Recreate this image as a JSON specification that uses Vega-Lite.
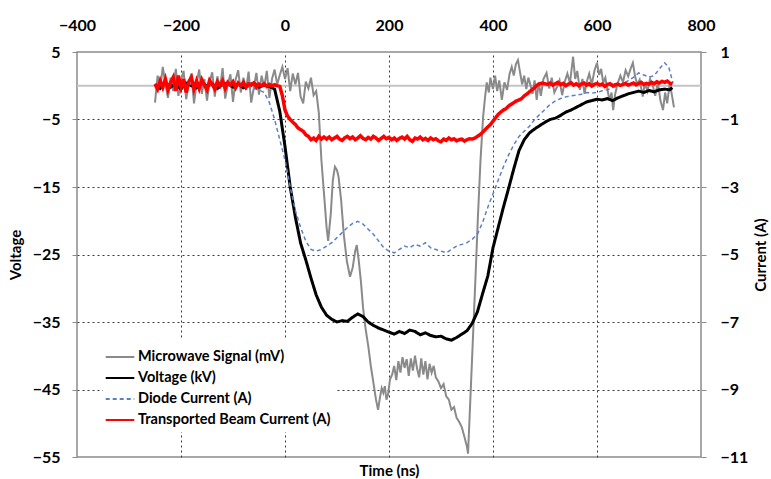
{
"$schema": "https://vega.github.io/schema/vega-lite/v6.json",
"width": 624, "height": 405,
"autosize": {"type": "none"},
"padding": {"left": 77, "top": 52, "right": 70, "bottom": 22},
"config": {
  "view": {"stroke": "#8c8c8c", "strokeWidth": 1.5},
  "font": "Lato",
  "axis": {"labelFont": "Lato", "labelFontSize": 16, "labelFontWeight": "bold", "labelColor": "#000000", "labelFlush": false, "titleFont": "Lato", "titleFontSize": 15, "titleFontWeight": "bold", "titleColor": "#000000", "domain": false, "tickColor": "#8c8c8c", "tickSize": 5, "gridColor": "#3a3a3a", "gridDash": [2, 3], "gridWidth": 1},
  "legend": {"orient": "none", "legendX": 26, "legendY": 288, "fillColor": "#ffffff", "padding": 5, "symbolType": "M-1.3,0H1.3", "symbolSize": 484, "symbolStrokeWidth": 2, "labelFont": "Lato", "labelFontSize": 14.5, "labelFontWeight": "bold", "labelColor": "#000000", "labelOffset": 6, "rowPadding": 2, "labelLimit": 300}
},
"data": {"values": [
{"s":"M","t":-250,"v":-2.5},{"s":"M","t":-245,"v":1.5},{"s":"M","t":-240,"v":-0.5},{"s":"M","t":-235,"v":2.8},{"s":"M","t":-230,"v":0.2},{"s":"M","t":-225,"v":-1.8},{"s":"M","t":-220,"v":1.2},{"s":"M","t":-215,"v":-0.8},{"s":"M","t":-210,"v":2.5},{"s":"M","t":-205,"v":-1.5},{"s":"M","t":-200,"v":0.8},{"s":"M","t":-195,"v":2.2},{"s":"M","t":-190,"v":-2.0},{"s":"M","t":-185,"v":0.5},{"s":"M","t":-180,"v":1.8},{"s":"M","t":-175,"v":-2.6},{"s":"M","t":-170,"v":0.3},{"s":"M","t":-165,"v":2.4},{"s":"M","t":-160,"v":-1.2},{"s":"M","t":-155,"v":1.0},{"s":"M","t":-150,"v":-2.2},{"s":"M","t":-145,"v":0.6},{"s":"M","t":-140,"v":2.0},{"s":"M","t":-135,"v":-1.6},{"s":"M","t":-130,"v":1.4},{"s":"M","t":-125,"v":-0.4},{"s":"M","t":-120,"v":2.6},{"s":"M","t":-115,"v":-1.9},{"s":"M","t":-110,"v":0.2},{"s":"M","t":-105,"v":1.7},{"s":"M","t":-100,"v":-2.4},{"s":"M","t":-95,"v":0.9},{"s":"M","t":-90,"v":2.3},{"s":"M","t":-85,"v":-1.0},{"s":"M","t":-80,"v":1.2},{"s":"M","t":-75,"v":-0.6},{"s":"M","t":-70,"v":2.1},{"s":"M","t":-65,"v":-2.5},{"s":"M","t":-60,"v":-0.3},{"s":"M","t":-55,"v":1.9},{"s":"M","t":-50,"v":-1.3},{"s":"M","t":-45,"v":1.5},{"s":"M","t":-40,"v":-0.2},{"s":"M","t":-35,"v":2.2},{"s":"M","t":-30,"v":-1.8},{"s":"M","t":-25,"v":1.0},{"s":"M","t":-20,"v":2.4},{"s":"M","t":-15,"v":0.2},{"s":"M","t":-10,"v":1.6},{"s":"M","t":-5,"v":2.8},{"s":"M","t":0,"v":1.0},{"s":"M","t":5,"v":2.6},{"s":"M","t":10,"v":-0.8},{"s":"M","t":15,"v":1.8},{"s":"M","t":20,"v":0.2},{"s":"M","t":25,"v":1.9},{"s":"M","t":30,"v":-1.6},{"s":"M","t":35,"v":-2.6},{"s":"M","t":40,"v":0.6},{"s":"M","t":45,"v":-0.4},{"s":"M","t":50,"v":1.2},{"s":"M","t":55,"v":-1.4},{"s":"M","t":60,"v":-0.8},{"s":"M","t":65,"v":-4},{"s":"M","t":70,"v":-11},{"s":"M","t":75,"v":-16},{"s":"M","t":80,"v":-21},{"s":"M","t":83,"v":-23},{"s":"M","t":88,"v":-19},{"s":"M","t":92,"v":-14},{"s":"M","t":96,"v":-12},{"s":"M","t":100,"v":-12.5},{"s":"M","t":103,"v":-13.5},{"s":"M","t":108,"v":-17},{"s":"M","t":113,"v":-22},{"s":"M","t":119,"v":-26},{"s":"M","t":125,"v":-28.3},{"s":"M","t":130,"v":-27},{"s":"M","t":135,"v":-24.5},{"s":"M","t":138,"v":-23.6},{"s":"M","t":142,"v":-26},{"s":"M","t":146,"v":-29},{"s":"M","t":150,"v":-32.8},{"s":"M","t":155,"v":-36},{"s":"M","t":160,"v":-38.5},{"s":"M","t":165,"v":-41.5},{"s":"M","t":170,"v":-44},{"s":"M","t":175,"v":-46.5},{"s":"M","t":179,"v":-48},{"s":"M","t":183,"v":-46},{"s":"M","t":186,"v":-44.8},{"s":"M","t":189,"v":-45.5},{"s":"M","t":192,"v":-44.5},{"s":"M","t":195,"v":-46.5},{"s":"M","t":198,"v":-45.8},{"s":"M","t":202,"v":-43.5},{"s":"M","t":206,"v":-42.8},{"s":"M","t":210,"v":-41.5},{"s":"M","t":214,"v":-43.6},{"s":"M","t":218,"v":-40.8},{"s":"M","t":222,"v":-42.5},{"s":"M","t":226,"v":-40.2},{"s":"M","t":230,"v":-41.8},{"s":"M","t":234,"v":-40.5},{"s":"M","t":238,"v":-43},{"s":"M","t":242,"v":-40.4},{"s":"M","t":246,"v":-42.2},{"s":"M","t":250,"v":-40.0},{"s":"M","t":254,"v":-41.9},{"s":"M","t":258,"v":-43.2},{"s":"M","t":262,"v":-40.4},{"s":"M","t":266,"v":-42.8},{"s":"M","t":270,"v":-40.8},{"s":"M","t":274,"v":-43.5},{"s":"M","t":278,"v":-41.2},{"s":"M","t":282,"v":-42.5},{"s":"M","t":286,"v":-41.5},{"s":"M","t":290,"v":-43.2},{"s":"M","t":295,"v":-43.8},{"s":"M","t":300,"v":-44.8},{"s":"M","t":305,"v":-44.2},{"s":"M","t":310,"v":-46},{"s":"M","t":315,"v":-46.5},{"s":"M","t":320,"v":-48},{"s":"M","t":325,"v":-47.6},{"s":"M","t":330,"v":-49.2},{"s":"M","t":335,"v":-49.8},{"s":"M","t":340,"v":-50.6},{"s":"M","t":345,"v":-52},{"s":"M","t":350,"v":-53.5},{"s":"M","t":352,"v":-54.5},{"s":"M","t":360,"v":-40},{"s":"M","t":366,"v":-29},{"s":"M","t":371,"v":-19.4},{"s":"M","t":376,"v":-11},{"s":"M","t":381,"v":-4.6},{"s":"M","t":385,"v":-1.5},{"s":"M","t":388,"v":0.5},{"s":"M","t":392,"v":-1.0},{"s":"M","t":395,"v":1.2},{"s":"M","t":400,"v":-0.5},{"s":"M","t":404,"v":1.5},{"s":"M","t":408,"v":-0.8},{"s":"M","t":412,"v":0.8},{"s":"M","t":417,"v":-2.1},{"s":"M","t":422,"v":0.5},{"s":"M","t":427,"v":-0.6},{"s":"M","t":432,"v":1.8},{"s":"M","t":436,"v":2.8},{"s":"M","t":440,"v":1.5},{"s":"M","t":444,"v":3.2},{"s":"M","t":448,"v":3.8},{"s":"M","t":452,"v":2.0},{"s":"M","t":456,"v":0.2},{"s":"M","t":460,"v":1.5},{"s":"M","t":464,"v":-0.5},{"s":"M","t":468,"v":1.2},{"s":"M","t":471,"v":0.4},{"s":"M","t":476,"v":-1.2},{"s":"M","t":480,"v":0.8},{"s":"M","t":484,"v":-2.1},{"s":"M","t":488,"v":0.5},{"s":"M","t":492,"v":-1.5},{"s":"M","t":497,"v":1.0},{"s":"M","t":503,"v":1.9},{"s":"M","t":508,"v":-0.4},{"s":"M","t":513,"v":1.2},{"s":"M","t":518,"v":-1.0},{"s":"M","t":523,"v":-0.2},{"s":"M","t":528,"v":0.8},{"s":"M","t":533,"v":-1.4},{"s":"M","t":538,"v":0.6},{"s":"M","t":543,"v":1.8},{"s":"M","t":548,"v":0.4},{"s":"M","t":552,"v":3.0},{"s":"M","t":554,"v":4.3},{"s":"M","t":558,"v":1.0},{"s":"M","t":562,"v":2.2},{"s":"M","t":567,"v":-0.6},{"s":"M","t":572,"v":1.0},{"s":"M","t":576,"v":-1.2},{"s":"M","t":580,"v":0.5},{"s":"M","t":585,"v":1.8},{"s":"M","t":590,"v":0.2},{"s":"M","t":595,"v":2.2},{"s":"M","t":600,"v":3.4},{"s":"M","t":604,"v":1.6},{"s":"M","t":608,"v":2.5},{"s":"M","t":612,"v":0.4},{"s":"M","t":616,"v":1.2},{"s":"M","t":620,"v":-0.5},{"s":"M","t":624,"v":-2.2},{"s":"M","t":628,"v":-1.0},{"s":"M","t":631,"v":-3.6},{"s":"M","t":635,"v":-1.2},{"s":"M","t":640,"v":0.4},{"s":"M","t":645,"v":1.5},{"s":"M","t":650,"v":0.5},{"s":"M","t":655,"v":2.3},{"s":"M","t":660,"v":1.4},{"s":"M","t":665,"v":2.6},{"s":"M","t":669,"v":3.4},{"s":"M","t":673,"v":1.5},{"s":"M","t":677,"v":0.2},{"s":"M","t":682,"v":0.9},{"s":"M","t":688,"v":-1.6},{"s":"M","t":692,"v":0.4},{"s":"M","t":697,"v":-0.8},{"s":"M","t":702,"v":1.0},{"s":"M","t":708,"v":-0.2},{"s":"M","t":712,"v":-1.5},{"s":"M","t":717,"v":0.5},{"s":"M","t":722,"v":-2.2},{"s":"M","t":727,"v":-3.6},{"s":"M","t":731,"v":-1.0},{"s":"M","t":735,"v":-2.6},{"s":"M","t":740,"v":0.4},{"s":"M","t":745,"v":-1.8},{"s":"M","t":748,"v":-3.2},
{"s":"V","t":-250,"v":0.2},{"s":"V","t":-240,"v":-0.4},{"s":"V","t":-230,"v":0.5},{"s":"V","t":-220,"v":-0.2},{"s":"V","t":-210,"v":0.3},{"s":"V","t":-200,"v":-0.5},{"s":"V","t":-190,"v":0.4},{"s":"V","t":-180,"v":0.0},{"s":"V","t":-170,"v":-0.3},{"s":"V","t":-160,"v":0.5},{"s":"V","t":-150,"v":-0.1},{"s":"V","t":-140,"v":0.3},{"s":"V","t":-130,"v":-0.4},{"s":"V","t":-120,"v":0.2},{"s":"V","t":-110,"v":0.4},{"s":"V","t":-100,"v":-0.2},{"s":"V","t":-90,"v":0.3},{"s":"V","t":-80,"v":-0.3},{"s":"V","t":-70,"v":0.1},{"s":"V","t":-60,"v":0.4},{"s":"V","t":-50,"v":-0.2},{"s":"V","t":-40,"v":0.1},{"s":"V","t":-30,"v":-0.1},{"s":"V","t":-20,"v":-0.5},{"s":"V","t":-10,"v":-3.8},{"s":"V","t":0,"v":-9},{"s":"V","t":10,"v":-15},{"s":"V","t":20,"v":-19.5},{"s":"V","t":30,"v":-23.3},{"s":"V","t":40,"v":-25.8},{"s":"V","t":50,"v":-28.5},{"s":"V","t":60,"v":-31},{"s":"V","t":70,"v":-32.8},{"s":"V","t":80,"v":-34},{"s":"V","t":90,"v":-34.6},{"s":"V","t":100,"v":-35},{"s":"V","t":110,"v":-34.8},{"s":"V","t":120,"v":-34.9},{"s":"V","t":130,"v":-34.3},{"s":"V","t":140,"v":-33.8},{"s":"V","t":150,"v":-34.2},{"s":"V","t":160,"v":-35},{"s":"V","t":170,"v":-35.5},{"s":"V","t":180,"v":-35.9},{"s":"V","t":190,"v":-36.2},{"s":"V","t":200,"v":-36.5},{"s":"V","t":210,"v":-36.8},{"s":"V","t":220,"v":-36.4},{"s":"V","t":230,"v":-36.7},{"s":"V","t":240,"v":-36.2},{"s":"V","t":250,"v":-36.4},{"s":"V","t":260,"v":-36.9},{"s":"V","t":270,"v":-36.6},{"s":"V","t":280,"v":-37},{"s":"V","t":290,"v":-37.2},{"s":"V","t":300,"v":-37.1},{"s":"V","t":310,"v":-37.5},{"s":"V","t":320,"v":-37.7},{"s":"V","t":330,"v":-37.3},{"s":"V","t":340,"v":-36.8},{"s":"V","t":350,"v":-36.3},{"s":"V","t":360,"v":-35.2},{"s":"V","t":370,"v":-33.5},{"s":"V","t":380,"v":-30.8},{"s":"V","t":390,"v":-28.2},{"s":"V","t":400,"v":-24},{"s":"V","t":410,"v":-21},{"s":"V","t":420,"v":-18},{"s":"V","t":430,"v":-15.2},{"s":"V","t":440,"v":-12.3},{"s":"V","t":450,"v":-9.6},{"s":"V","t":460,"v":-8},{"s":"V","t":470,"v":-7},{"s":"V","t":480,"v":-6.4},{"s":"V","t":490,"v":-5.9},{"s":"V","t":500,"v":-5.4},{"s":"V","t":510,"v":-5},{"s":"V","t":520,"v":-4.8},{"s":"V","t":530,"v":-4.4},{"s":"V","t":540,"v":-3.9},{"s":"V","t":550,"v":-3.6},{"s":"V","t":560,"v":-3.2},{"s":"V","t":570,"v":-2.8},{"s":"V","t":580,"v":-2.4},{"s":"V","t":590,"v":-2.2},{"s":"V","t":600,"v":-2.0},{"s":"V","t":610,"v":-2.1},{"s":"V","t":620,"v":-1.9},{"s":"V","t":630,"v":-2.2},{"s":"V","t":640,"v":-1.8},{"s":"V","t":650,"v":-1.5},{"s":"V","t":660,"v":-1.2},{"s":"V","t":670,"v":-1.0},{"s":"V","t":680,"v":-0.8},{"s":"V","t":690,"v":-1.0},{"s":"V","t":700,"v":-0.7},{"s":"V","t":710,"v":-0.9},{"s":"V","t":720,"v":-0.6},{"s":"V","t":730,"v":-0.5},{"s":"V","t":740,"v":-0.6},{"s":"V","t":745,"v":-0.3},
{"s":"D","t":-250,"v":0.05},{"s":"D","t":-240,"v":-0.03},{"s":"D","t":-230,"v":0.04},{"s":"D","t":-220,"v":-0.02},{"s":"D","t":-210,"v":0.03},{"s":"D","t":-200,"v":-0.04},{"s":"D","t":-190,"v":0.02},{"s":"D","t":-180,"v":0.05},{"s":"D","t":-170,"v":-0.03},{"s":"D","t":-160,"v":0.02},{"s":"D","t":-150,"v":-0.02},{"s":"D","t":-140,"v":0.04},{"s":"D","t":-130,"v":-0.03},{"s":"D","t":-120,"v":0.02},{"s":"D","t":-110,"v":0.0},{"s":"D","t":-100,"v":0.03},{"s":"D","t":-90,"v":-0.02},{"s":"D","t":-80,"v":0.02},{"s":"D","t":-70,"v":-0.04},{"s":"D","t":-60,"v":-0.08},{"s":"D","t":-50,"v":-0.12},{"s":"D","t":-40,"v":-0.2},{"s":"D","t":-30,"v":-0.5},{"s":"D","t":-20,"v":-1.0},{"s":"D","t":-10,"v":-1.6},{"s":"D","t":0,"v":-2.2},{"s":"D","t":10,"v":-3.0},{"s":"D","t":20,"v":-3.7},{"s":"D","t":30,"v":-4.2},{"s":"D","t":40,"v":-4.6},{"s":"D","t":50,"v":-4.85},{"s":"D","t":60,"v":-4.9},{"s":"D","t":70,"v":-4.85},{"s":"D","t":80,"v":-4.75},{"s":"D","t":90,"v":-4.65},{"s":"D","t":100,"v":-4.5},{"s":"D","t":110,"v":-4.35},{"s":"D","t":120,"v":-4.2},{"s":"D","t":130,"v":-4.08},{"s":"D","t":140,"v":-4.02},{"s":"D","t":150,"v":-4.1},{"s":"D","t":160,"v":-4.25},{"s":"D","t":170,"v":-4.4},{"s":"D","t":180,"v":-4.6},{"s":"D","t":190,"v":-4.8},{"s":"D","t":200,"v":-4.9},{"s":"D","t":210,"v":-4.95},{"s":"D","t":220,"v":-4.85},{"s":"D","t":230,"v":-4.75},{"s":"D","t":240,"v":-4.8},{"s":"D","t":250,"v":-4.7},{"s":"D","t":260,"v":-4.75},{"s":"D","t":270,"v":-4.65},{"s":"D","t":280,"v":-4.8},{"s":"D","t":290,"v":-4.85},{"s":"D","t":300,"v":-4.9},{"s":"D","t":310,"v":-4.95},{"s":"D","t":320,"v":-4.85},{"s":"D","t":330,"v":-4.75},{"s":"D","t":340,"v":-4.7},{"s":"D","t":350,"v":-4.65},{"s":"D","t":360,"v":-4.55},{"s":"D","t":370,"v":-4.4},{"s":"D","t":380,"v":-4.05},{"s":"D","t":390,"v":-3.6},{"s":"D","t":400,"v":-3.2},{"s":"D","t":410,"v":-2.8},{"s":"D","t":420,"v":-2.4},{"s":"D","t":430,"v":-2.05},{"s":"D","t":440,"v":-1.75},{"s":"D","t":450,"v":-1.5},{"s":"D","t":460,"v":-1.35},{"s":"D","t":470,"v":-1.2},{"s":"D","t":480,"v":-1.0},{"s":"D","t":490,"v":-0.85},{"s":"D","t":500,"v":-0.7},{"s":"D","t":510,"v":-0.55},{"s":"D","t":520,"v":-0.45},{"s":"D","t":530,"v":-0.38},{"s":"D","t":540,"v":-0.33},{"s":"D","t":550,"v":-0.3},{"s":"D","t":560,"v":-0.28},{"s":"D","t":570,"v":-0.25},{"s":"D","t":580,"v":-0.2},{"s":"D","t":590,"v":-0.22},{"s":"D","t":600,"v":-0.2},{"s":"D","t":610,"v":-0.15},{"s":"D","t":620,"v":-0.12},{"s":"D","t":630,"v":-0.05},{"s":"D","t":640,"v":-0.02},{"s":"D","t":650,"v":0.05},{"s":"D","t":660,"v":0.15},{"s":"D","t":670,"v":0.25},{"s":"D","t":680,"v":0.38},{"s":"D","t":690,"v":0.32},{"s":"D","t":700,"v":0.26},{"s":"D","t":710,"v":0.3},{"s":"D","t":720,"v":0.5},{"s":"D","t":730,"v":0.68},{"s":"D","t":738,"v":0.55},{"s":"D","t":746,"v":0.08},
{"s":"B","t":-250,"v":0.05},{"s":"B","t":-245,"v":-0.1},{"s":"B","t":-240,"v":0.15},{"s":"B","t":-235,"v":-0.05},{"s":"B","t":-230,"v":0.2},{"s":"B","t":-225,"v":-0.12},{"s":"B","t":-220,"v":0.1},{"s":"B","t":-215,"v":0.25},{"s":"B","t":-210,"v":-0.15},{"s":"B","t":-205,"v":0.3},{"s":"B","t":-200,"v":-0.05},{"s":"B","t":-195,"v":0.2},{"s":"B","t":-190,"v":-0.2},{"s":"B","t":-185,"v":0.12},{"s":"B","t":-180,"v":0.25},{"s":"B","t":-175,"v":-0.1},{"s":"B","t":-170,"v":0.15},{"s":"B","t":-165,"v":-0.08},{"s":"B","t":-160,"v":0.18},{"s":"B","t":-155,"v":0.02},{"s":"B","t":-150,"v":-0.12},{"s":"B","t":-145,"v":0.16},{"s":"B","t":-140,"v":0.05},{"s":"B","t":-135,"v":-0.1},{"s":"B","t":-130,"v":0.12},{"s":"B","t":-125,"v":0.0},{"s":"B","t":-120,"v":0.15},{"s":"B","t":-115,"v":-0.08},{"s":"B","t":-110,"v":0.1},{"s":"B","t":-105,"v":0.02},{"s":"B","t":-100,"v":0.12},{"s":"B","t":-95,"v":-0.06},{"s":"B","t":-90,"v":0.08},{"s":"B","t":-85,"v":0.0},{"s":"B","t":-80,"v":0.1},{"s":"B","t":-75,"v":-0.05},{"s":"B","t":-70,"v":0.06},{"s":"B","t":-65,"v":0.02},{"s":"B","t":-60,"v":0.08},{"s":"B","t":-55,"v":-0.04},{"s":"B","t":-50,"v":0.05},{"s":"B","t":-45,"v":0.0},{"s":"B","t":-40,"v":0.06},{"s":"B","t":-35,"v":-0.02},{"s":"B","t":-30,"v":0.04},{"s":"B","t":-25,"v":0.0},{"s":"B","t":-20,"v":0.03},{"s":"B","t":-15,"v":0.0},{"s":"B","t":-10,"v":-0.02},{"s":"B","t":-5,"v":-0.3},{"s":"B","t":0,"v":-0.72},{"s":"B","t":5,"v":-0.9},{"s":"B","t":10,"v":-1.0},{"s":"B","t":15,"v":-1.08},{"s":"B","t":20,"v":-1.15},{"s":"B","t":25,"v":-1.25},{"s":"B","t":30,"v":-1.3},{"s":"B","t":35,"v":-1.35},{"s":"B","t":40,"v":-1.45},{"s":"B","t":45,"v":-1.5},{"s":"B","t":50,"v":-1.6},{"s":"B","t":55,"v":-1.55},{"s":"B","t":60,"v":-1.62},{"s":"B","t":65,"v":-1.5},{"s":"B","t":70,"v":-1.58},{"s":"B","t":75,"v":-1.52},{"s":"B","t":80,"v":-1.58},{"s":"B","t":85,"v":-1.52},{"s":"B","t":90,"v":-1.6},{"s":"B","t":95,"v":-1.55},{"s":"B","t":100,"v":-1.5},{"s":"B","t":105,"v":-1.58},{"s":"B","t":110,"v":-1.62},{"s":"B","t":115,"v":-1.54},{"s":"B","t":120,"v":-1.5},{"s":"B","t":125,"v":-1.57},{"s":"B","t":130,"v":-1.52},{"s":"B","t":135,"v":-1.6},{"s":"B","t":140,"v":-1.55},{"s":"B","t":145,"v":-1.48},{"s":"B","t":150,"v":-1.56},{"s":"B","t":155,"v":-1.6},{"s":"B","t":160,"v":-1.53},{"s":"B","t":165,"v":-1.58},{"s":"B","t":170,"v":-1.5},{"s":"B","t":175,"v":-1.55},{"s":"B","t":180,"v":-1.62},{"s":"B","t":185,"v":-1.56},{"s":"B","t":190,"v":-1.5},{"s":"B","t":195,"v":-1.57},{"s":"B","t":200,"v":-1.53},{"s":"B","t":205,"v":-1.6},{"s":"B","t":210,"v":-1.55},{"s":"B","t":215,"v":-1.62},{"s":"B","t":220,"v":-1.56},{"s":"B","t":225,"v":-1.52},{"s":"B","t":230,"v":-1.58},{"s":"B","t":235,"v":-1.5},{"s":"B","t":240,"v":-1.6},{"s":"B","t":245,"v":-1.65},{"s":"B","t":250,"v":-1.55},{"s":"B","t":255,"v":-1.58},{"s":"B","t":260,"v":-1.52},{"s":"B","t":265,"v":-1.6},{"s":"B","t":270,"v":-1.56},{"s":"B","t":275,"v":-1.62},{"s":"B","t":280,"v":-1.55},{"s":"B","t":285,"v":-1.6},{"s":"B","t":290,"v":-1.57},{"s":"B","t":295,"v":-1.63},{"s":"B","t":300,"v":-1.66},{"s":"B","t":305,"v":-1.58},{"s":"B","t":310,"v":-1.62},{"s":"B","t":315,"v":-1.55},{"s":"B","t":320,"v":-1.6},{"s":"B","t":325,"v":-1.57},{"s":"B","t":330,"v":-1.63},{"s":"B","t":335,"v":-1.6},{"s":"B","t":340,"v":-1.58},{"s":"B","t":345,"v":-1.64},{"s":"B","t":350,"v":-1.6},{"s":"B","t":355,"v":-1.57},{"s":"B","t":360,"v":-1.58},{"s":"B","t":365,"v":-1.55},{"s":"B","t":370,"v":-1.5},{"s":"B","t":375,"v":-1.45},{"s":"B","t":380,"v":-1.38},{"s":"B","t":385,"v":-1.3},{"s":"B","t":390,"v":-1.22},{"s":"B","t":395,"v":-1.15},{"s":"B","t":400,"v":-1.05},{"s":"B","t":405,"v":-0.95},{"s":"B","t":410,"v":-0.85},{"s":"B","t":415,"v":-0.78},{"s":"B","t":420,"v":-0.72},{"s":"B","t":425,"v":-0.68},{"s":"B","t":430,"v":-0.6},{"s":"B","t":435,"v":-0.55},{"s":"B","t":440,"v":-0.5},{"s":"B","t":445,"v":-0.45},{"s":"B","t":450,"v":-0.42},{"s":"B","t":455,"v":-0.38},{"s":"B","t":460,"v":-0.3},{"s":"B","t":465,"v":-0.25},{"s":"B","t":470,"v":-0.18},{"s":"B","t":475,"v":-0.12},{"s":"B","t":480,"v":-0.06},{"s":"B","t":485,"v":0.02},{"s":"B","t":490,"v":0.06},{"s":"B","t":495,"v":0.08},{"s":"B","t":500,"v":0.06},{"s":"B","t":505,"v":0.04},{"s":"B","t":510,"v":0.08},{"s":"B","t":515,"v":0.02},{"s":"B","t":520,"v":0.06},{"s":"B","t":525,"v":0.1},{"s":"B","t":530,"v":0.03},{"s":"B","t":535,"v":0.07},{"s":"B","t":540,"v":0.0},{"s":"B","t":545,"v":0.05},{"s":"B","t":550,"v":0.09},{"s":"B","t":555,"v":0.02},{"s":"B","t":560,"v":0.06},{"s":"B","t":565,"v":0.0},{"s":"B","t":570,"v":0.05},{"s":"B","t":575,"v":0.08},{"s":"B","t":580,"v":0.02},{"s":"B","t":585,"v":0.06},{"s":"B","t":590,"v":-0.01},{"s":"B","t":595,"v":0.04},{"s":"B","t":600,"v":0.07},{"s":"B","t":605,"v":0.02},{"s":"B","t":610,"v":0.05},{"s":"B","t":615,"v":-0.02},{"s":"B","t":620,"v":0.04},{"s":"B","t":625,"v":0.06},{"s":"B","t":630,"v":0.0},{"s":"B","t":635,"v":0.03},{"s":"B","t":640,"v":0.05},{"s":"B","t":645,"v":0.01},{"s":"B","t":650,"v":0.04},{"s":"B","t":655,"v":0.07},{"s":"B","t":660,"v":0.02},{"s":"B","t":665,"v":0.05},{"s":"B","t":670,"v":0.08},{"s":"B","t":675,"v":0.03},{"s":"B","t":680,"v":0.06},{"s":"B","t":685,"v":0.1},{"s":"B","t":690,"v":0.04},{"s":"B","t":695,"v":0.07},{"s":"B","t":700,"v":0.05},{"s":"B","t":705,"v":0.1},{"s":"B","t":710,"v":0.06},{"s":"B","t":715,"v":0.12},{"s":"B","t":720,"v":0.08},{"s":"B","t":725,"v":0.13},{"s":"B","t":730,"v":0.1},{"s":"B","t":735,"v":0.14},{"s":"B","t":740,"v":0.08},{"s":"B","t":745,"v":0.04}
]},
"layer": [
  {
    "layer": [
      {"data": {"values": [{"z": 0}]}, "mark": {"type": "rule", "color": "#c4c4c4", "strokeWidth": 2},
       "encoding": {"y": {"field": "z", "type": "quantitative", "scale": {"domain": [-55, 5], "nice": false, "zero": false},
         "axis": {"orient": "left", "values": [5, -5, -15, -25, -35, -45, -55], "title": "Voltage", "titlePadding": 9, "labelPadding": 12, "grid": true, "gridOpacity": {"condition": {"test": "datum.value == 5 || datum.value == -55", "value": 0}, "value": 1}}}}},
      {"layer": [
        {"transform": [{"filter": "datum.s == 'M'"}], "mark": {"type": "line", "strokeWidth": 2}},
        {"transform": [{"filter": "datum.s == 'V'"}], "mark": {"type": "line", "strokeWidth": 3}}
       ],
       "encoding": {
         "x": {"field": "t", "type": "quantitative", "scale": {"domain": [-400, 800], "nice": false, "zero": false},
           "axis": {"orient": "top", "values": [-400, -200, 0, 200, 400, 600, 800], "title": null, "ticks": false, "labelPadding": 19, "grid": true, "gridOpacity": {"condition": {"test": "datum.value == -400 || datum.value == 800", "value": 0}, "value": 1}}},
         "y": {"field": "v", "type": "quantitative", "scale": {"domain": [-55, 5], "nice": false, "zero": false},
           "axis": {"orient": "left", "values": [5, -5, -15, -25, -35, -45, -55], "title": "Voltage", "titlePadding": 9, "labelPadding": 12, "grid": true, "gridOpacity": {"condition": {"test": "datum.value == 5 || datum.value == -55", "value": 0}, "value": 1}}},
         "color": {"field": "s", "type": "nominal", "scale": {"domain": ["M", "V", "D", "B"], "range": ["#8a8a8a", "#000000", "#5b80c4", "#ff0000"]},
           "legend": {"title": null, "labelExpr": "datum.label == 'M' ? 'Microwave Signal (mV)' : datum.label == 'V' ? 'Voltage (kV)' : datum.label == 'D' ? 'Diode Current (A)' : 'Transported Beam Current (A)'"}},
         "strokeDash": {"field": "s", "type": "nominal", "scale": {"domain": ["M", "V", "D", "B"], "range": [[1, 0], [1, 0], [4, 3], [1, 0]]},
           "legend": {"title": null, "labelExpr": "datum.label == 'M' ? 'Microwave Signal (mV)' : datum.label == 'V' ? 'Voltage (kV)' : datum.label == 'D' ? 'Diode Current (A)' : 'Transported Beam Current (A)'"}}
       }}
    ]
  },
  {
    "layer": [
      {"transform": [{"filter": "datum.s == 'D'"}], "mark": {"type": "line", "strokeWidth": 1.5}},
      {"transform": [{"filter": "datum.s == 'B'"}], "mark": {"type": "line", "strokeWidth": 3.5}}
    ],
    "encoding": {
      "x": {"field": "t", "type": "quantitative", "scale": {"domain": [-400, 800], "nice": false, "zero": false},
        "axis": {"orient": "bottom", "title": "Time (ns)", "labels": false, "ticks": false, "grid": false, "titlePadding": 6}},
      "y": {"field": "v", "type": "quantitative", "scale": {"domain": [-11, 1], "nice": false, "zero": false},
        "axis": {"orient": "right", "values": [1, -1, -3, -5, -7, -9, -11], "title": "Current (A)", "titleAngle": 270, "titlePadding": 21, "labelPadding": 14, "grid": false}},
      "color": {"field": "s", "type": "nominal", "scale": {"domain": ["M", "V", "D", "B"], "range": ["#8a8a8a", "#000000", "#5b80c4", "#ff0000"]},
        "legend": {"title": null, "labelExpr": "datum.label == 'M' ? 'Microwave Signal (mV)' : datum.label == 'V' ? 'Voltage (kV)' : datum.label == 'D' ? 'Diode Current (A)' : 'Transported Beam Current (A)'"}},
      "strokeDash": {"field": "s", "type": "nominal", "scale": {"domain": ["M", "V", "D", "B"], "range": [[1, 0], [1, 0], [4, 3], [1, 0]]},
        "legend": {"title": null, "labelExpr": "datum.label == 'M' ? 'Microwave Signal (mV)' : datum.label == 'V' ? 'Voltage (kV)' : datum.label == 'D' ? 'Diode Current (A)' : 'Transported Beam Current (A)'"}}
    }
  }
],
"resolve": {"scale": {"y": "independent"}, "axis": {"x": "independent"}}
}
